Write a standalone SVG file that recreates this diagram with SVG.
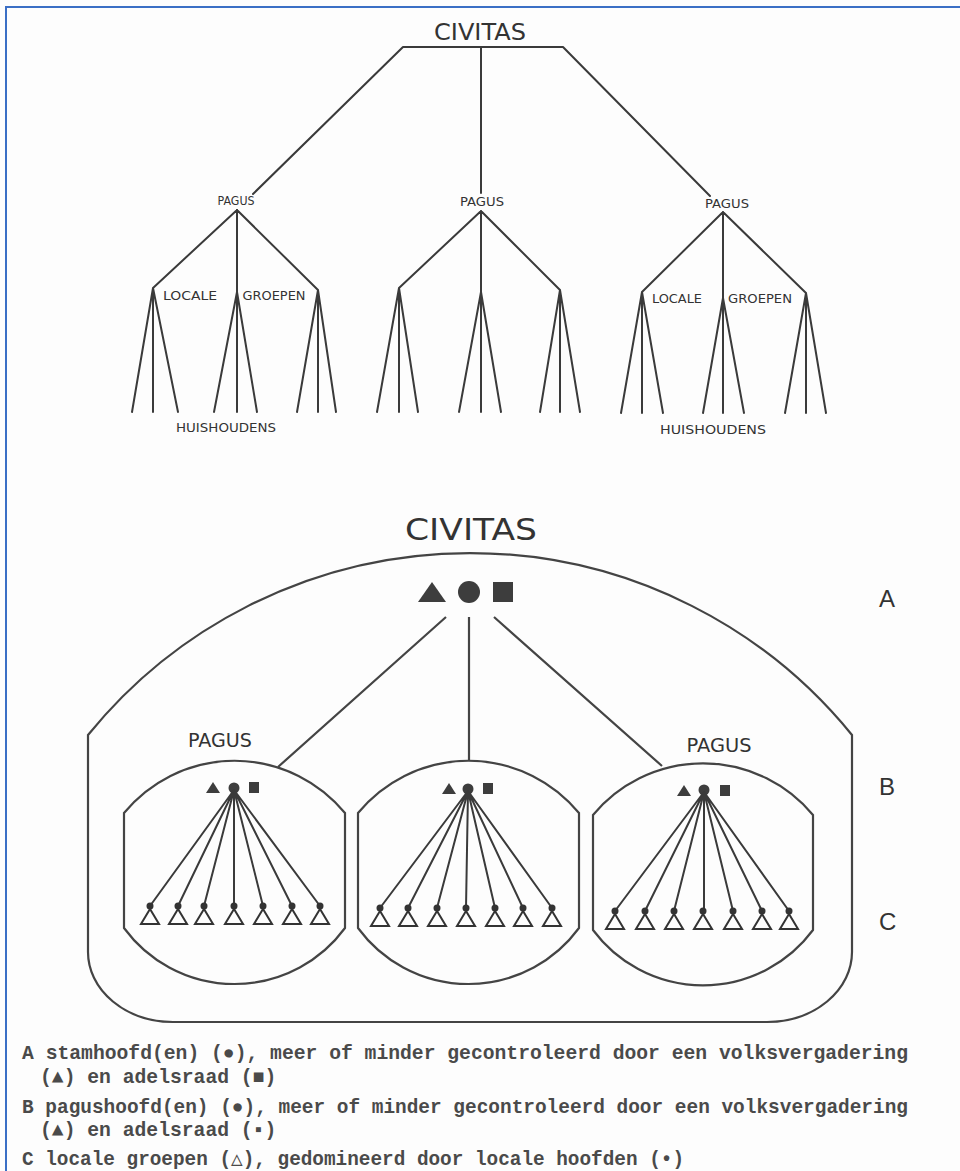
<svg xmlns="http://www.w3.org/2000/svg" width="960" height="1171" viewBox="0 0 960 1171">
<style>
.ln{stroke:#3a3a3a;stroke-width:2;fill:none;stroke-linecap:round}
.bx{stroke:#444;stroke-width:2.2;fill:none}
.t1{font-family:"DejaVu Sans","Liberation Sans",sans-serif;fill:#333;text-anchor:middle}
.lg{font-family:"Liberation Mono",monospace;font-weight:bold;font-size:19.7px;fill:#4a4a4a}
.sym{fill:#3d3d3d}
</style>
<defs>
<g id="node"><circle cx="0" cy="0" r="3.5" fill="#333"/><path d="M0,3 L-9,18 L9,18 Z" fill="none" stroke="#333" stroke-width="2"/></g>
</defs>
<rect x="0" y="0" width="960" height="1171" fill="#fdfdfd"/>
<path d="M6,1171 V7 H960" fill="none" stroke="#3b6fc5" stroke-width="2"/>

<g id="top-tree">
<text class="t1" x="480" y="40" font-size="23" textLength="92" lengthAdjust="spacingAndGlyphs">CIVITAS</text>
<g id="top-connectors">
<path class="ln" d="M403,47 H563 M403,47 L253,194 M481,47 V193 M563,47 L710,196"/>
<path class="ln" d="M237,210 L153,288 M237,210 V412 M237,210 L318,290
M153,288 L132,412 M153,288 V412 M153,288 L178,412
M237,292 L214,412 M237,292 L257,412
M318,290 L297,412 M318,290 V412 M318,290 L336,412"/>
<path class="ln" d="M481,211 L399,288 M481,211 V412 M481,211 L560,290
M399,288 L377,412 M399,288 V412 M399,288 L418,412
M481,292 L459,412 M481,292 L501,412
M560,290 L540,412 M560,290 V412 M560,290 L580,412"/>
<path class="ln" d="M723,212 L642,292 M723,212 V413 M723,212 L806,293
M642,292 L621,413 M642,292 V413 M642,292 L663,413
M723,298 L703,413 M723,298 L744,413
M806,293 L785,413 M806,293 V413 M806,293 L826,413"/>
</g>
<g id="top-labels" font-size="12">
<text class="t1" x="236" y="205" textLength="37" lengthAdjust="spacingAndGlyphs">PAGUS</text>
<text class="t1" x="482" y="206" textLength="44" lengthAdjust="spacingAndGlyphs">PAGUS</text>
<text class="t1" x="727" y="208" textLength="44" lengthAdjust="spacingAndGlyphs">PAGUS</text>
<text class="t1" x="190" y="300" textLength="54" lengthAdjust="spacingAndGlyphs">LOCALE</text>
<text class="t1" x="274" y="300" textLength="63" lengthAdjust="spacingAndGlyphs">GROEPEN</text>
<text class="t1" x="226" y="432" textLength="100" lengthAdjust="spacingAndGlyphs">HUISHOUDENS</text>
<text class="t1" x="677" y="303" textLength="50" lengthAdjust="spacingAndGlyphs">LOCALE</text>
<text class="t1" x="760" y="303" textLength="64" lengthAdjust="spacingAndGlyphs">GROEPEN</text>
<text class="t1" x="713" y="434" textLength="106" lengthAdjust="spacingAndGlyphs">HUISHOUDENS</text>
</g>
</g>

<g id="civitas">
<text class="t1" x="471" y="540" font-size="30" textLength="132" lengthAdjust="spacingAndGlyphs">CIVITAS</text>
<path class="bx" d="M88,952 V735 A492,492 0 0 1 852,735 V952 A85,70 0 0 1 767,1022 H173 A85,70 0 0 1 88,952 Z"/>
<path class="sym" d="M432,582 L446,602 L418,602 Z"/>
<circle class="sym" cx="469" cy="592" r="11"/>
<rect class="sym" x="493" y="582" width="20" height="20"/>
</g>

<g id="connectors">
<path class="bx" d="M446,617 L278,767 M469,617 V761 M494,617 L662,766"/>
</g>

<g id="pagus-left">
<text class="t1" x="220" y="747" font-size="20" textLength="64" lengthAdjust="spacingAndGlyphs">PAGUS</text>
<path class="bx" d="M124,928 V813 A143,143 0 0 1 345,813 V928 A137,137 0 0 1 124,928 Z"/>
<path class="sym" d="M213,782 L220,793 L206,793 Z"/>
<circle class="sym" cx="234" cy="788" r="5.5"/>
<rect class="sym" x="249" y="782" width="10" height="11"/>
<path class="ln" d="M234,790 L150,906 M234,790 L178,906 M234,790 L204,906 M234,790 V906 M234,790 L263,906 M234,790 L292,906 M234,790 L320,906"/>
<use href="#node" x="150" y="906"/><use href="#node" x="178" y="906"/><use href="#node" x="204" y="906"/><use href="#node" x="234" y="906"/><use href="#node" x="263" y="906"/><use href="#node" x="292" y="906"/><use href="#node" x="320" y="906"/>
</g>

<g id="pagus-middle">
<path class="bx" d="M358,928 V813 A143,143 0 0 1 579,813 V928 A137,137 0 0 1 358,928 Z"/>
<path class="sym" d="M449,783 L456,794 L442,794 Z"/>
<circle class="sym" cx="468" cy="789" r="5.5"/>
<rect class="sym" x="483" y="783" width="10" height="11"/>
<path class="ln" d="M468,791 L380,908 M468,791 L408,908 M468,791 L437,908 M468,791 L466,908 M468,791 L495,908 M468,791 L523,908 M468,791 L552,908"/>
<use href="#node" x="380" y="908"/><use href="#node" x="408" y="908"/><use href="#node" x="437" y="908"/><use href="#node" x="466" y="908"/><use href="#node" x="495" y="908"/><use href="#node" x="523" y="908"/><use href="#node" x="552" y="908"/>
</g>

<g id="pagus-right">
<text class="t1" x="719" y="752" font-size="20" textLength="65" lengthAdjust="spacingAndGlyphs">PAGUS</text>
<path class="bx" d="M593,930 V815 A143,143 0 0 1 813,815 V930 A137,137 0 0 1 593,930 Z"/>
<path class="sym" d="M684,785 L691,796 L677,796 Z"/>
<circle class="sym" cx="704" cy="790" r="5.5"/>
<rect class="sym" x="720" y="785" width="10" height="11"/>
<path class="ln" d="M704,792 L615,911 M704,792 L645,911 M704,792 L674,911 M704,792 V911 M704,792 L733,911 M704,792 L762,911 M704,792 L789,911"/>
<use href="#node" x="615" y="911"/><use href="#node" x="645" y="911"/><use href="#node" x="674" y="911"/><use href="#node" x="703" y="911"/><use href="#node" x="733" y="911"/><use href="#node" x="762" y="911"/><use href="#node" x="789" y="911"/>
</g>

<g id="levels" font-family="Liberation Sans, sans-serif" font-size="24" fill="#333">
<text x="879" y="607">A</text>
<text x="879" y="795">B</text>
<text x="879" y="930">C</text>
</g>

<g id="legend">
<text class="lg" x="22" y="1059" textLength="886" lengthAdjust="spacingAndGlyphs">A stamhoofd(en) (●), meer of minder gecontroleerd door een volksvergadering</text>
<text class="lg" x="40" y="1083">(▲) en adelsraad (■)</text>
<text class="lg" x="22" y="1113" textLength="886" lengthAdjust="spacingAndGlyphs">B pagushoofd(en) (●), meer of minder gecontroleerd door een volksvergadering</text>
<text class="lg" x="40" y="1136">(▲) en adelsraad (▪)</text>
<text class="lg" x="22" y="1165" textLength="662" lengthAdjust="spacingAndGlyphs">C locale groepen (△), gedomineerd door locale hoofden (•)</text>
</g>
</svg>
